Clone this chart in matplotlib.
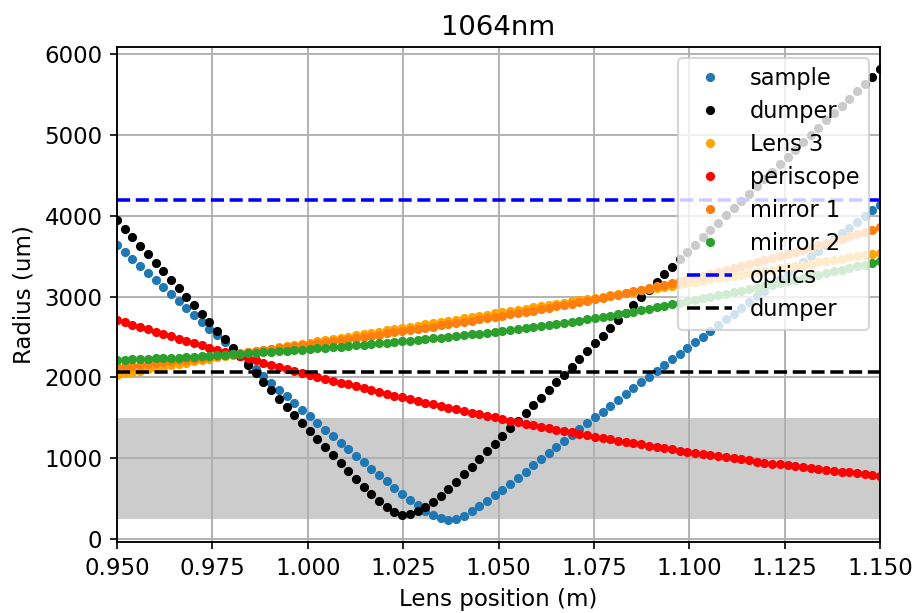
import numpy as np
import matplotlib
matplotlib.use("Agg")
import matplotlib.pyplot as plt

# Lens positions (m): 100 evenly spaced samples
lens_pos = np.linspace(0.95, 1.15, 100)

sample = [3635, 3548, 3461, 3375, 3289, 3203, 3117, 3031, 2945, 2859,
          2774, 2689, 2604, 2519, 2434, 2349, 2265, 2181, 2097, 2013,
          1930, 1847, 1764, 1681, 1599, 1517, 1435, 1353, 1272, 1191,
          1110, 1030, 950, 870, 791, 712, 634, 557, 483, 413,
          350, 300, 260, 238, 248, 285, 338, 400, 467, 537,
          609, 683, 758, 833, 908, 983, 1058, 1133, 1207, 1281,
          1355, 1429, 1502, 1575, 1648, 1721, 1793, 1865, 1937, 2008,
          2079, 2150, 2221, 2292, 2363, 2434, 2505, 2576, 2647, 2718,
          2789, 2860, 2931, 3002, 3073, 3144, 3215, 3286, 3357, 3428,
          3499, 3570, 3641, 3712, 3783, 3854, 3925, 3996, 4067, 4138]

dumper = [3947, 3842, 3736, 3631, 3525, 3420, 3314, 3209, 3103, 2998,
          2892, 2787, 2681, 2576, 2470, 2365, 2259, 2154, 2048, 1943,
          1837, 1732, 1633, 1534, 1435, 1336, 1237, 1139, 1040, 941,
          842, 743, 646, 552, 466, 390, 333, 300, 302, 338,
          390, 458, 534, 615, 705, 800, 893, 987, 1082, 1177,
          1272, 1367, 1463, 1558, 1652, 1747, 1842, 1936, 2031, 2128,
          2224, 2320, 2420, 2515, 2610, 2705, 2800, 2895, 2990, 3085,
          3180, 3275, 3370, 3461, 3551, 3642, 3732, 3823, 3913, 4004,
          4094, 4185, 4275, 4366, 4456, 4547, 4637, 4728, 4818, 4909,
          4999, 5090, 5180, 5271, 5361, 5452, 5542, 5633, 5723, 5814]

lens3 = [2030, 2047, 2065, 2082, 2099, 2116, 2133, 2149, 2166, 2182,
         2199, 2215, 2231, 2247, 2263, 2278, 2294, 2309, 2325, 2340,
         2355, 2370, 2385, 2400, 2415, 2430, 2445, 2460, 2475, 2490,
         2505, 2520, 2535, 2550, 2565, 2580, 2595, 2610, 2625, 2640,
         2655, 2670, 2685, 2700, 2715, 2730, 2745, 2760, 2775, 2790,
         2805, 2820, 2835, 2850, 2865, 2880, 2895, 2910, 2925, 2940,
         2955, 2970, 2985, 3000, 3015, 3031, 3046, 3061, 3076, 3091,
         3106, 3121, 3136, 3151, 3166, 3182, 3197, 3212, 3227, 3242,
         3257, 3272, 3287, 3302, 3317, 3333, 3348, 3363, 3378, 3393,
         3408, 3423, 3438, 3453, 3468, 3484, 3499, 3514, 3529, 3544]

periscope = [2709, 2679, 2650, 2621, 2592, 2563, 2535, 2506, 2478, 2450,
             2422, 2395, 2368, 2340, 2313, 2287, 2260, 2234, 2208, 2182,
             2156, 2131, 2106, 2081, 2056, 2031, 2007, 1983, 1959, 1935,
             1911, 1888, 1865, 1842, 1819, 1796, 1774, 1752, 1730, 1708,
             1687, 1665, 1644, 1623, 1603, 1582, 1562, 1542, 1522, 1502,
             1483, 1464, 1444, 1426, 1407, 1389, 1370, 1352, 1335, 1317,
             1300, 1282, 1265, 1249, 1232, 1216, 1200, 1184, 1168, 1152,
             1137, 1122, 1107, 1092, 1078, 1064, 1050, 1036, 1022, 1009,
             995, 982, 970, 957, 944, 932, 920, 908, 897, 886,
             874, 863, 853, 842, 832, 822, 812, 802, 792, 783]

mirror1 = [2125, 2135, 2145, 2155, 2166, 2176, 2187, 2197, 2208, 2219,
           2230, 2241, 2252, 2263, 2275, 2286, 2298, 2310, 2321, 2333,
           2346, 2358, 2370, 2383, 2396, 2409, 2422, 2435, 2448, 2461,
           2475, 2488, 2502, 2515, 2529, 2543, 2557, 2571, 2585, 2599,
           2613, 2628, 2642, 2657, 2672, 2686, 2701, 2717, 2732, 2747,
           2763, 2778, 2794, 2810, 2827, 2843, 2860, 2877, 2895, 2912,
           2930, 2948, 2967, 2985, 3004, 3024, 3043, 3063, 3084, 3105,
           3126, 3147, 3169, 3191, 3214, 3236, 3259, 3282, 3306, 3329,
           3353, 3378, 3402, 3427, 3452, 3477, 3502, 3528, 3554, 3581,
           3607, 3634, 3661, 3688, 3716, 3744, 3772, 3800, 3829, 3858]

mirror2 = [2215, 2218, 2221, 2225, 2229, 2233, 2237, 2241, 2245, 2250,
           2255, 2260, 2265, 2271, 2277, 2283, 2289, 2295, 2301, 2308,
           2314, 2321, 2328, 2335, 2343, 2350, 2358, 2365, 2373, 2381,
           2389, 2397, 2405, 2413, 2421, 2429, 2438, 2446, 2455, 2463,
           2472, 2482, 2491, 2500, 2510, 2520, 2530, 2541, 2551, 2562,
           2573, 2584, 2596, 2607, 2620, 2632, 2646, 2659, 2673, 2687,
           2702, 2716, 2732, 2747, 2763, 2780, 2796, 2813, 2830, 2848,
           2865, 2883, 2902, 2920, 2939, 2958, 2976, 2995, 3014, 3033,
           3053, 3072, 3091, 3111, 3130, 3150, 3170, 3190, 3210, 3230,
           3250, 3270, 3290, 3311, 3331, 3352, 3372, 3393, 3414, 3435]

optics_limit = 4200
dumper_limit = 2060
band_low, band_high = 250, 1500

plt.rcParams['font.size'] = 11
plt.rcParams['axes.linewidth'] = 0.9
plt.rcParams['grid.linewidth'] = 0.9

fig = plt.figure(figsize=(917 / 150, 613 / 150), dpi=150)
ax = fig.add_axes([0.1276, 0.1158, 0.8321, 0.8075])

ax.fill_between(lens_pos, band_low, band_high, color='grey', alpha=0.4, linewidth=0)

ms = 4.4
ax.plot(lens_pos, sample, 'o', color='C0', ms=ms, mew=0, label='sample')
ax.plot(lens_pos, dumper, 'o', color='k', ms=ms, mew=0, label='dumper')
ax.plot(lens_pos, lens3, 'o', color='orange', ms=ms, mew=0, label='Lens 3')
ax.plot(lens_pos, periscope, 'o', color='r', ms=ms, mew=0, label='periscope')
ax.plot(lens_pos, mirror1, 'o', color='C1', ms=ms, mew=0, label='mirror 1')
ax.plot(lens_pos, mirror2, 'o', color='C2', ms=ms, mew=0, label='mirror 2')
ax.axhline(optics_limit, color='b', ls='--', lw=1.7, label='optics')
ax.axhline(dumper_limit, color='k', ls='--', lw=1.7, label='dumper')

ax.set_xlim(0.95, 1.15)
ax.set_ylim(-40, 6090)
ax.grid(True)
ax.set_title('1064nm', fontsize=13.2)
ax.set_xlabel('Lens position (m)')
ax.set_ylabel('Radius (um)')
ax.legend(loc='upper right', numpoints=1, fontsize=10.8, labelspacing=0.44)

fig.savefig('out.png', dpi=150)
